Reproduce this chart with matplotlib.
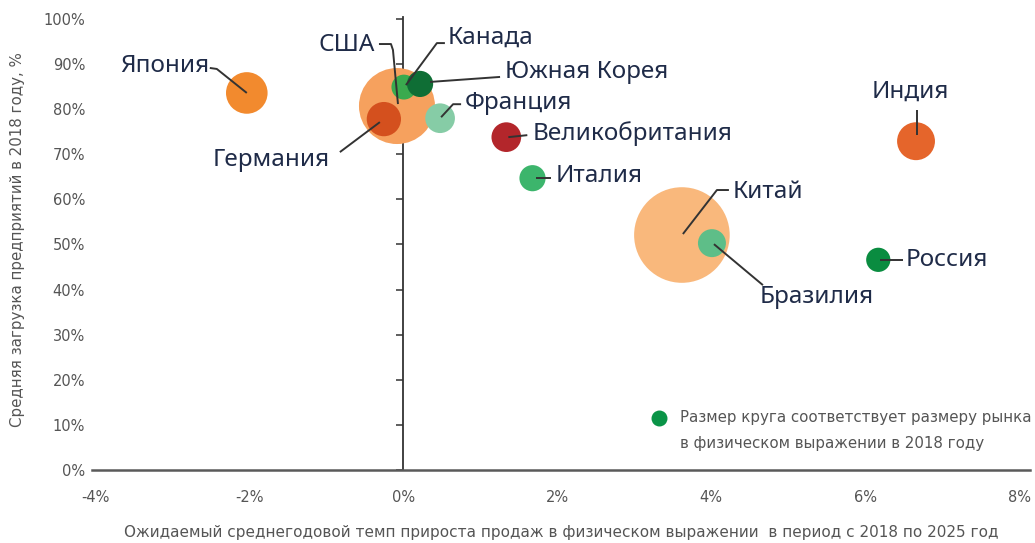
import matplotlib
matplotlib.use('Agg')
import matplotlib.pyplot as plt
import matplotlib.transforms as mtransforms

# ---- data ----
countries = ['США', 'Япония', 'Германия', 'Канада', 'Южная Корея', 'Франция',
             'Великобритания', 'Италия', 'Китай', 'Бразилия', 'Индия', 'Россия']
growth = [-0.08, -2.03, -0.25, 0.01, 0.22, 0.48, 1.34, 1.68, 3.62, 4.01, 6.66, 6.17]   # %
load = [80.7, 83.6, 77.8, 84.9, 85.6, 78.0, 73.8, 64.7, 52.1, 50.3, 72.9, 46.6]        # %
market = [17.7, 5.3, 3.6, 1.9, 2.1, 2.7, 2.7, 2.1, 28.0, 2.4, 4.4, 1.8]                # млн шт.
colors = ['#F6A15E', '#F28A2E', '#D4501E', '#3AAA4E', '#0F6E35', '#86CCA6',
          '#B3262B', '#3CB56C', '#F9B87C', '#5EBE88', '#E5652B', '#0A8C40']

x_ticks = [-4, -2, 0, 2, 4, 6, 8]
x_tick_labels = ['-4%', '-2%', '0%', '2%', '4%', '6%', '8%']
y_ticks = [0, 10, 20, 30, 40, 50, 60, 70, 80, 90, 100]
y_tick_labels = ['0%', '10%', '20%', '30%', '40%', '50%', '60%', '70%', '80%', '90%', '100%']

x_title = 'Ожидаемый среднегодовой темп прироста продаж в физическом выражении  в период с 2018 по 2025 год'
y_title = 'Средняя загрузка предприятий в 2018 году, %'
legend_lines = ['Размер круга соответствует размеру рынка', 'в физическом выражении в 2018 году']

# label placement (pixel offsets from bubble centre, y up) and leader lines
label_pos = {
    'США': ((-22, 61), 'right'),
    'Япония': ((-37, 27), 'right'),
    'Германия': ((-54, -41), 'right'),
    'Канада': ((44, 49), 'left'),
    'Южная Корея': ((85, 12), 'left'),
    'Франция': ((25, 15), 'left'),
    'Великобритания': ((26, 4), 'left'),
    'Италия': ((23, 2), 'left'),
    'Китай': ((51, 43), 'left'),
    'Бразилия': ((48, -54), 'left'),
    'Индия': ((-6, 49), 'center'),
    'Россия': ((27, 0), 'left'),
}
leaders = {
    'США': [(-18, 62), (-6, 62), (-4, 56), (1, 2)],
    'Япония': [(-37, 25), (-30, 24), (0, 0)],
    'Германия': [(-44, -33), (-4, -3)],
    'Канада': [(41, 44), (33, 44), (2, 2)],
    'Южная Корея': [(80, 7), (10, 2)],
    'Франция': [(21, 14), (13, 14), (1, 1)],
    'Великобритания': [(21, 2), (2, 0)],
    'Италия': [(18, 0), (3, 0)],
    'Китай': [(47, 45), (35, 45), (1, 1)],
    'Бразилия': [(2, -1), (51, -42)],
    'Индия': [(1, 31), (1, 6)],
    'Россия': [(25, 0), (2, 0)],
}

LABEL_FONT = ['Noto Sans', 'DejaVu Sans']
SMALL_FONT = ['DejaVu Sans']
plt.rcParams['font.family'] = SMALL_FONT

W, H = 1035, 543
fig = plt.figure(figsize=(W / 100, H / 100), dpi=100)
ax = fig.add_axes([92 / W, 73 / H, 938 / W, 453 / H])
ax.set_xlim(-4.04, 8.14)
ax.set_ylim(0, 100.44)

for s in ['top', 'right']:
    ax.spines[s].set_visible(False)
ax.spines['left'].set_position(('data', 0))
ax.spines['left'].set_color('#333333')
ax.spines['left'].set_linewidth(1.3)
ax.spines['bottom'].set_color('#5a5a5a')
ax.spines['bottom'].set_linewidth(1.8)

ax.set_yticks(y_ticks)
ax.tick_params(axis='y', direction='out', length=5, width=1.1, color='#333333', labelleft=False)
ax.set_xticks(x_ticks)
ax.set_xticklabels(x_tick_labels)
ax.tick_params(axis='x', length=0, pad=14.5, labelsize=10.5, labelcolor='#555555')

sec = ax.secondary_yaxis(0)
sec.spines['left'].set_visible(False)
sec.set_yticks(y_ticks)
sec.set_yticklabels(y_tick_labels)
sec.tick_params(length=0, pad=5, labelsize=10.5, labelcolor='#555555')

# bubbles (area proportional to market)
k = (2 * 38 * 0.72) ** 2 / 17.7
ax.scatter(growth, load, s=[m * k for m in market], c=colors, linewidths=0, zorder=3)

fig.canvas.draw()
for i, name in enumerate(countries):
    cx, cy = ax.transData.transform((growth[i], load[i]))
    tr = mtransforms.Affine2D().translate(cx, cy)
    pts = leaders[name]
    ax.plot([p[0] for p in pts], [p[1] for p in pts], color='#333333', lw=1.4,
            transform=tr, zorder=5, solid_capstyle='butt', clip_on=False)
    (dx, dy), ha = label_pos[name]
    ax.annotate(name, xy=(growth[i], load[i]), xytext=(dx, dy), textcoords='offset pixels',
                ha=ha, va='center', fontsize=17.5, color='#1F2B48', zorder=6,
                family=LABEL_FONT)

# legend note
ax.scatter([0.6045], [0.1148], s=110, color='#0A9447', transform=ax.transAxes, zorder=4, clip_on=False)
ax.text(0.627, 0.1148, legend_lines[0], transform=ax.transAxes, ha='left', va='center',
        fontsize=10.8, color='#555555')
ax.text(0.627, 0.0596, legend_lines[1], transform=ax.transAxes, ha='left', va='center',
        fontsize=10.8, color='#555555')

fig.text(561 / W, 1 - 533 / H, x_title, ha='center', va='center', fontsize=11, color='#555555')
fig.text(18 / W, 1 - 240 / H, y_title, ha='center', va='center', rotation=90, fontsize=10.8,
         color='#555555')

fig.savefig('out.png', dpi=100)
